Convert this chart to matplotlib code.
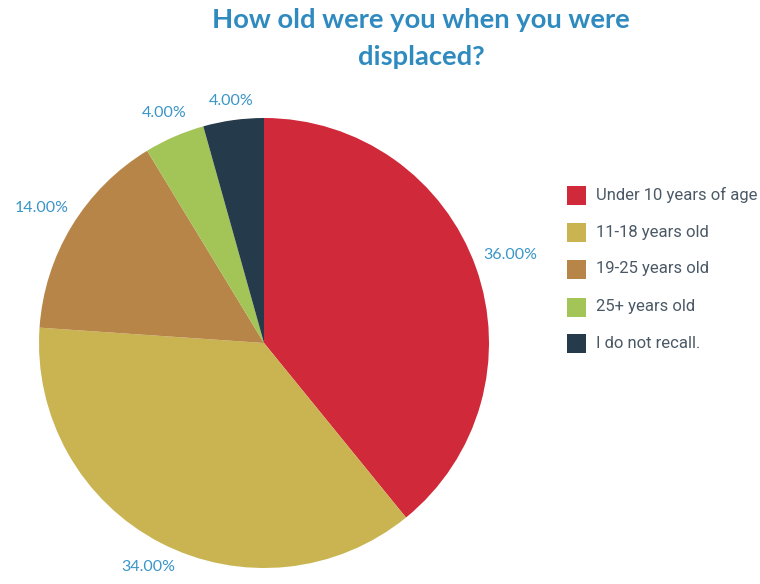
import numpy as np
import matplotlib
matplotlib.use("Agg")
import matplotlib.pyplot as plt
from matplotlib.patches import Rectangle

# Survey responses: age at displacement
categories = ["Under 10 years of age", "11-18 years old", "19-25 years old",
              "25+ years old", "I do not recall."]
percentages = [36.0, 34.0, 14.0, 4.0, 4.0]
colors = ["#d0293a", "#c9b451", "#b88548", "#a3c457", "#253b4c"]

title_color = "#2f8bbf"
label_color = "#3a95c8"
legend_text_color = "#4b5966"

W, H = 760, 584
fig = plt.figure(figsize=(W / 100, H / 100), dpi=100)

# Pie axes: centre (264, 343) px, radius 225 px
cx, cy, R = 264, 343, 225
ax = fig.add_axes([(cx - R) / W, (H - cy - R) / H, 2 * R / W, 2 * R / H])
wedges, _ = ax.pie(percentages, colors=colors, startangle=90, counterclock=False,
                   radius=1.0, wedgeprops=dict(linewidth=0))
ax.set_xlim(-1, 1)
ax.set_ylim(-1, 1)
ax.set_aspect("equal")
ax.axis("off")

# Percentage labels placed just outside each wedge
half_w, half_h = 27 / R, 7 / R
for w, p in zip(wedges, percentages):
    mid = np.deg2rad((w.theta1 + w.theta2) / 2)
    dx, dy = np.cos(mid), np.sin(mid)
    r = 1.04 + abs(dx) * half_w + abs(dy) * half_h
    ax.text(r * dx, r * dy, f"{p:.2f}%", ha="center", va="center",
            fontsize=11.5, color=label_color, family="Lato", clip_on=False)

# Title
fig.text(421 / W, 1 - 20 / H, "How old were you when you were",
         ha="center", va="center", fontsize=19.7, fontweight="bold",
         color=title_color, family="Lato")
fig.text(421 / W, 1 - 57 / H, "displaced?",
         ha="center", va="center", fontsize=19.7, fontweight="bold",
         color=title_color, family="Lato")

# Legend
row_y = [195, 232, 269, 307, 343]
sq = 19
for name, col, y in zip(categories, colors, row_y):
    fig.add_artist(Rectangle(((567) / W, 1 - (y + sq / 2) / H), sq / W, sq / H,
                             transform=fig.transFigure, facecolor=col,
                             edgecolor="none"))
    fig.text(596 / W, 1 - y / H, name, ha="left", va="center",
             fontsize=12, color=legend_text_color, family="Roboto")

fig.savefig("out.png", dpi=100, facecolor="white")
